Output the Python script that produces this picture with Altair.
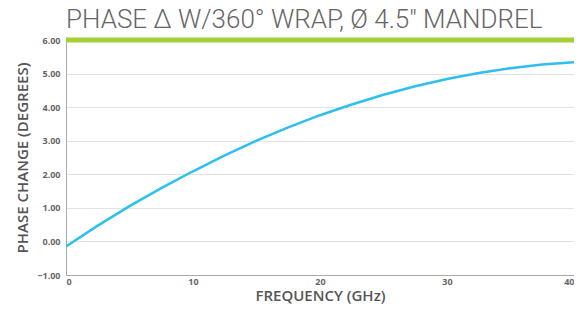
import altair as alt
import pandas as pd

freq = [0, 2.5, 5, 7.5, 10, 12.5, 15, 17.5, 20, 22.5, 25, 27.5, 30, 32.5, 35, 37.5, 40]
phase = [-0.15, 0.47, 1.05, 1.59, 2.09, 2.56, 3.00, 3.40, 3.76, 4.08, 4.37, 4.62, 4.84, 5.02, 5.16, 5.27, 5.34]
limit_value = [6.0]
x_ticks = [0, 10, 20, 30, 40]
y_ticks = [-1, 0, 1, 2, 3, 4, 5, 6]

df = pd.DataFrame({"freq": freq, "phase": phase})
lim = pd.DataFrame({"y": limit_value})

x_scale = alt.Scale(domain=[0, 40], nice=False)
y_scale = alt.Scale(domain=[-1, 6], nice=False)

y_axis = alt.Axis(title="PHASE CHANGE (DEGREES)", values=y_ticks,
                  format=".2f", ticks=False, labelPadding=6, grid=True,
                  labelOverlap=False, titlePadding=6)
x_axis = alt.Axis(title="FREQUENCY (GHz)", values=x_ticks,
                  grid=False, ticks=False, labelPadding=2,
                  labelOverlap=False, titlePadding=2)

lab_font = "Open Sans"

limit = alt.Chart(lim).mark_rule(color="#a6ce39", strokeWidth=5).encode(
    y=alt.Y("y:Q", scale=y_scale, axis=y_axis)
)

curve = alt.Chart(df).mark_line(color="#2dbff0", strokeWidth=2.5, clip=True).encode(
    x=alt.X("freq:Q", scale=x_scale, axis=x_axis),
    y=alt.Y("phase:Q", scale=y_scale, axis=y_axis),
)

chart = alt.layer(limit, curve).properties(
    width=508,
    height=235,
    autosize=alt.AutoSizeParams(type="none"),
    padding={"left": 58, "top": 32, "right": 0, "bottom": 29},
    title=alt.TitleParams(
        text='PHASE \u0394 W/360\u00b0 WRAP, \u00d8 4.5" MANDREL',
        anchor="start",
        frame="group",
        font="Roboto",
        fontWeight=300,
        fontSize=26,
        color="#666666",
        offset=3,
    ),
).configure_view(stroke=None).configure_axis(
    labelFont=lab_font,
    labelFontWeight=700,
    labelFontSize=9,
    labelColor="#666666",
    titleFont=lab_font,
    titleFontWeight=600,
    titleFontSize=15,
    titleColor="#555555",
    domainColor="#aaaaaa",
    gridColor="#e3e3e3",
)

chart.save("out.html", embed_options={"renderer": "svg", "actions": False})
